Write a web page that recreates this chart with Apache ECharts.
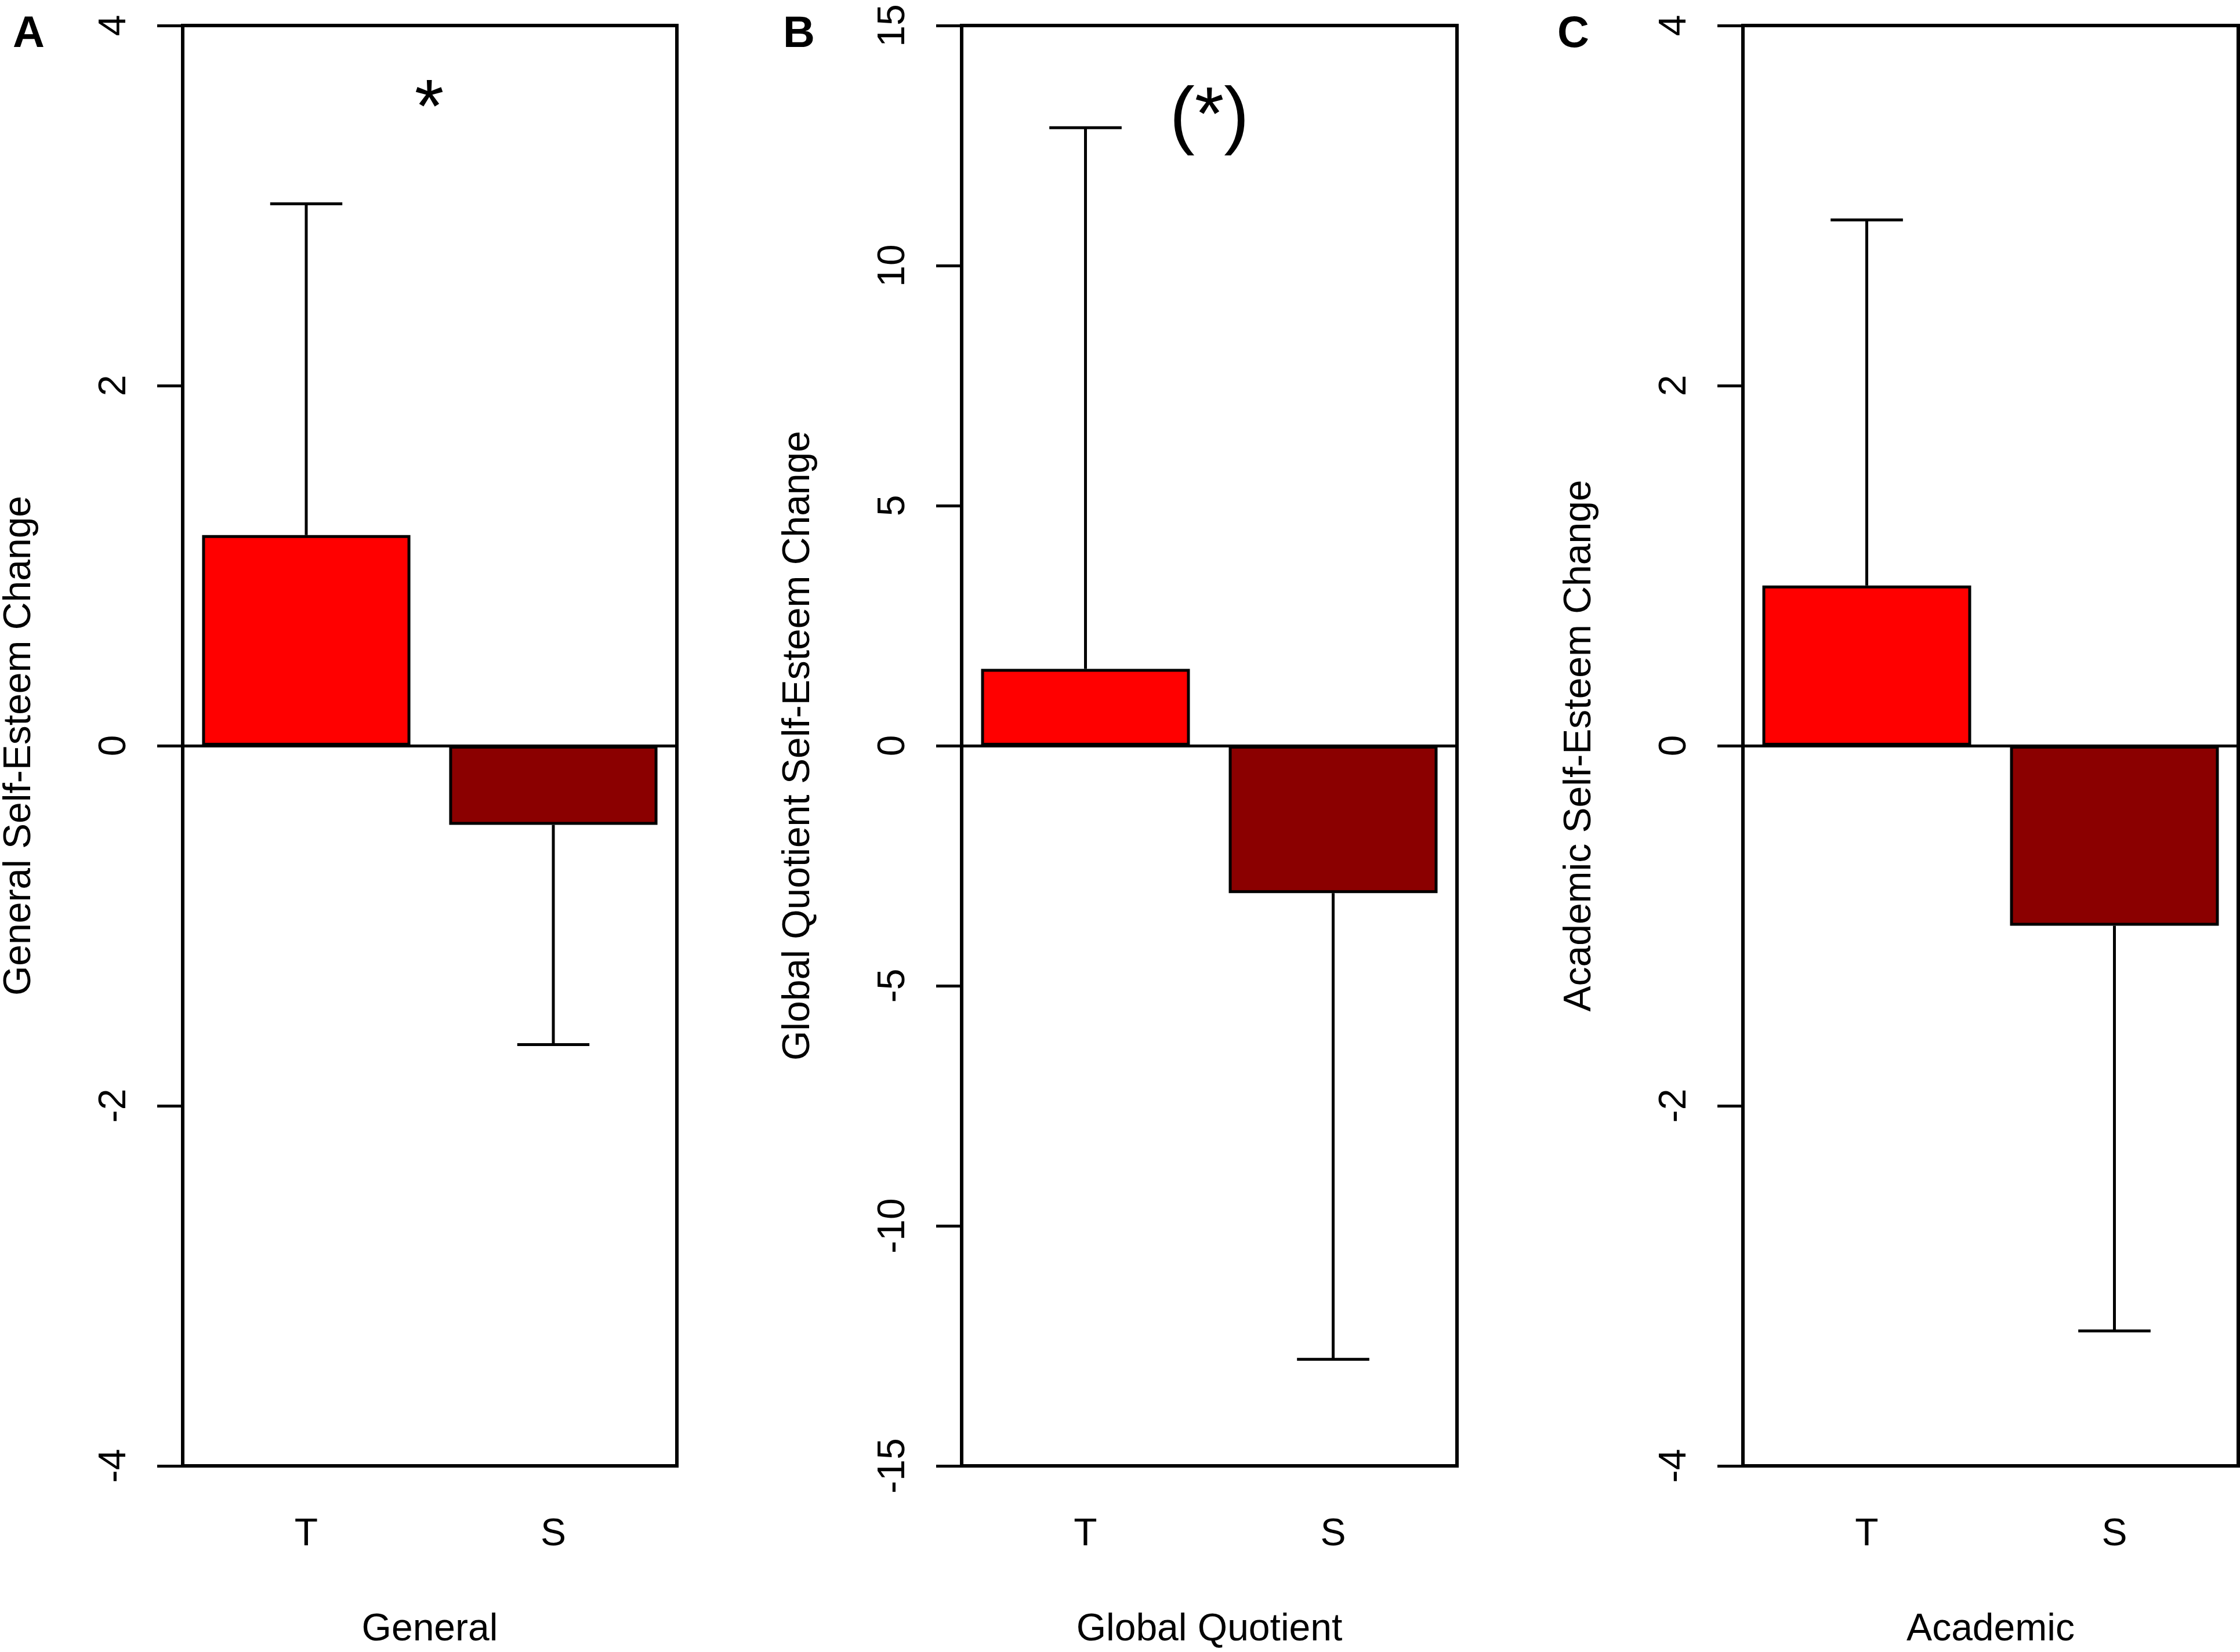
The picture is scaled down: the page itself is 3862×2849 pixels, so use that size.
<!DOCTYPE html>
<html>
<head>
<meta charset="utf-8">
<script src="https://cdn.jsdelivr.net/npm/echarts@6/dist/echarts.min.js"></script>
<style>
  html, body { margin: 0; padding: 0; background: #fff; }
  #chart { width: 3862px; height: 2849px; }
</style>
</head>
<body>
<div id="chart"></div>
<script>
// groups on the x axis
const categories = ['T', 'S'];

// mean change per group, and the SD drawn as a one-sided error bar
const generalMeans = [1.17, -0.44];
const generalSD = [1.84, 1.22];
const globalMeans = [1.60, -3.07];
const globalSD = [11.27, 9.71];
const academicMeans = [0.89, -1.00];
const academicSD = [2.03, 2.25];

const panelLetters = ['A', 'B', 'C'];
const xNames = ['General', 'Global Quotient', 'Academic'];
const yNames = ['General Self-Esteem Change', 'Global Quotient Self-Esteem Change', 'Academic Self-Esteem Change'];
const yMin = [-4, -15, -4];
const yMax = [4, 15, 4];
const yStep = [2, 5, 2];
const marks = ['*', '(*)', ''];

const barColors = ['#ff0000', '#8b0000'];
const FONT = '"Liberation Sans", Arial, sans-serif';

const panels = [
    { means: generalMeans, sd: generalSD },
    { means: globalMeans, sd: globalSD },
    { means: academicMeans, sd: academicSD }
];

const gridLeft = [313, 1658, 3005];
const gridWidth = 854;
const gridTop = 44;
const gridHeight = 2492;

function renderErrorBar(params, api) {
    const x = api.value(0);
    const base = api.coord([x, api.value(1)]);
    const tip = api.coord([x, api.value(2)]);
    const half = api.size([1, 0])[0] * 0.146;
    const style = { stroke: '#000', lineWidth: 5 };
    return {
        type: 'group',
        children: [
            { type: 'line', shape: { x1: base[0], y1: base[1], x2: tip[0], y2: tip[1] }, style: style },
            { type: 'line', shape: { x1: tip[0] - half, y1: tip[1], x2: tip[0] + half, y2: tip[1] }, style: style }
        ]
    };
}

const grid = [], xAxis = [], yAxis = [], series = [], graphic = [];

panels.forEach((p, i) => {
    grid.push({
        left: gridLeft[i], top: gridTop, width: gridWidth, height: gridHeight,
        show: true, borderColor: '#000', borderWidth: 6, backgroundColor: 'transparent'
    });
    xAxis.push({
        type: 'category', gridIndex: i, data: categories,
        name: xNames[i], nameLocation: 'middle', nameGap: 250,
        nameTextStyle: { fontFamily: FONT, fontSize: 66, color: '#000' },
        axisLine: { show: false }, axisTick: { show: false },
        axisLabel: { fontFamily: FONT, fontSize: 66, color: '#000', margin: 86 }
    });
    yAxis.push({
        type: 'value', gridIndex: i, min: yMin[i], max: yMax[i], interval: yStep[i],
        name: yNames[i], nameLocation: 'middle', nameGap: 248,
        nameTextStyle: { fontFamily: FONT, fontSize: 66, color: '#000' },
        splitLine: { show: false },
        axisLine: { show: true, lineStyle: { color: '#000', width: 6 } },
        axisTick: { show: true, length: 44, lineStyle: { color: '#000', width: 5 } },
        axisLabel: { fontFamily: FONT, fontSize: 66, color: '#000', rotate: 90, margin: 84 }
    });
    series.push({
        type: 'bar', xAxisIndex: i, yAxisIndex: i, barWidth: '84.3%',
        data: p.means.map((v, k) => ({
            value: v,
            itemStyle: { color: barColors[k], borderColor: '#000', borderWidth: 5 }
        })),
        markLine: {
            silent: true, symbol: 'none', label: { show: false },
            lineStyle: { color: '#000', width: 5, type: 'solid' },
            data: [{ yAxis: 0 }]
        },
        z: 2
    });
    series.push({
        type: 'custom', xAxisIndex: i, yAxisIndex: i, renderItem: renderErrorBar, z: 3,
        data: p.means.map((m, k) => [k, m, m >= 0 ? m + p.sd[k] : m - p.sd[k]])
    });

    graphic.push({
        type: 'text', left: [22, 1350, 2685][i], top: 22,
        style: { text: panelLetters[i], font: 'bold 76px ' + FONT, fill: '#000' }
    });
    if (marks[i]) {
        graphic.push({
            type: 'text', x: gridLeft[i] + gridWidth / 2, y: [192, 205][i],
            style: { text: marks[i], font: '130px ' + FONT, fill: '#000', align: 'center', verticalAlign: 'middle' }
        });
    }
});

const chart = echarts.init(document.getElementById('chart'));
chart.setOption({
    backgroundColor: '#fff',
    animation: false,
    grid: grid,
    xAxis: xAxis,
    yAxis: yAxis,
    series: series,
    graphic: graphic
});
window.addEventListener('resize', () => chart.resize());
</script>
</body>
</html>
